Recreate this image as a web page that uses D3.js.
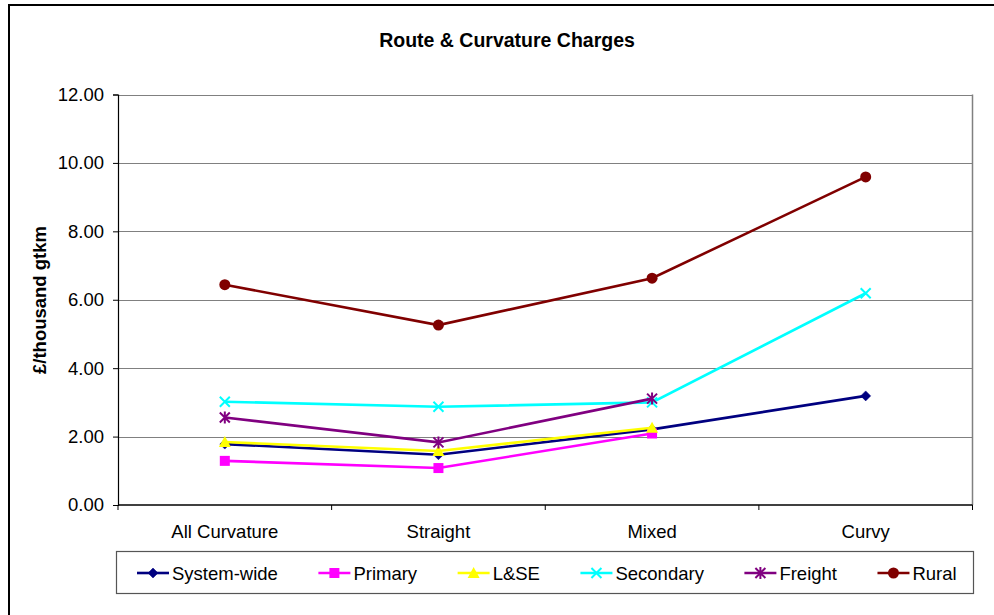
<!DOCTYPE html>
<html>
<head>
<meta charset="utf-8">
<script src="https://cdn.jsdelivr.net/npm/d3@7"></script>
<style>
  html, body { margin: 0; padding: 0; background: #fff; }
  svg { display: block; font-family: "Liberation Sans", Arial, sans-serif; }
</style>
</head>
<body>
<svg id="chart" width="994" height="615"></svg>
<script>
// Route & Curvature charges (£ per thousand gross tonne-km)
const categories = ["All Curvature", "Straight", "Mixed", "Curvy"];
const yTicks = [0, 2, 4, 6, 8, 10, 12];

const seriesNames = ["System-wide", "Primary", "L&SE", "Secondary", "Freight", "Rural"];
const systemWide = [1.78, 1.47, 2.21, 3.19];
const primary    = [1.29, 1.08, 2.09, null];
const lse        = [1.84, 1.58, 2.26, null];
const secondary  = [3.02, 2.87, 3.00, 6.19];
const freight    = [2.56, 1.83, 3.11, null];
const rural      = [6.44, 5.26, 6.63, 9.59];

const seriesValues = [systemWide, primary, lse, secondary, freight, rural];
const seriesColors = ["#000080", "#FF00FF", "#FFFF00", "#00FFFF", "#800080", "#800000"];
const seriesMarkers = ["diamond", "square", "triangle", "cross", "star", "circle"];

const svg = d3.select("#chart");

// Frame around the whole chart
svg.append("rect")
  .attr("x", 9).attr("y", 5).attr("width", 1100).attr("height", 700)
  .attr("fill", "#fff").attr("stroke", "#000").attr("stroke-width", 2);

const plot = { left: 118, right: 972.5, top: 94.5, bottom: 505 };

const x = d3.scaleBand().domain(categories).range([plot.left, plot.right]).padding(0);
const cx = c => x(c) + x.bandwidth() / 2;
const y = d3.scaleLinear().domain([0, 12]).range([plot.bottom, plot.top]);

// Title
svg.append("text")
  .attr("x", 507).attr("y", 47)
  .attr("text-anchor", "middle")
  .attr("font-weight", "bold").attr("font-size", 19.5)
  .text("Route & Curvature Charges");

// Horizontal gridlines
svg.append("g")
  .selectAll("line")
  .data(yTicks.filter(t => t > 0))
  .join("line")
  .attr("x1", plot.left).attr("x2", plot.right)
  .attr("y1", d => Math.round(y(d)) + 0.5).attr("y2", d => Math.round(y(d)) + 0.5)
  .attr("stroke", "#808080").attr("stroke-width", 1.2);

// Right border of the plot area
svg.append("line")
  .attr("x1", plot.right).attr("x2", plot.right)
  .attr("y1", plot.top).attr("y2", plot.bottom)
  .attr("stroke", "#808080").attr("stroke-width", 1.5);

// Y axis
const yAxis = d3.axisLeft(y).tickValues(yTicks).tickFormat(d3.format(".2f")).tickSize(5).tickPadding(9);
const gy = svg.append("g").attr("transform", `translate(${plot.left},0)`).call(yAxis);
gy.select(".domain").attr("stroke", "#000").attr("stroke-width", 1.2);
gy.selectAll(".tick line").attr("stroke", "#000");
gy.selectAll(".tick text").attr("font-size", 18.5).attr("fill", "#000")
  .attr("font-family", "Liberation Sans, Arial, sans-serif");

// X axis: ticks sit on the category boundaries
const gx = svg.append("g").attr("transform", `translate(0,${plot.bottom})`);
gx.append("line").attr("x1", plot.left).attr("x2", plot.right)
  .attr("y1", 0).attr("y2", 0).attr("stroke", "#000").attr("stroke-width", 1.5);
gx.selectAll("line.tick")
  .data(categories.map(c => x(c)).concat([plot.right]))
  .join("line").attr("class", "tick")
  .attr("x1", d => d).attr("x2", d => d).attr("y1", 0).attr("y2", 5)
  .attr("stroke", "#000");
gx.selectAll("text")
  .data(categories)
  .join("text")
  .attr("x", d => cx(d)).attr("y", 33)
  .attr("text-anchor", "middle").attr("font-size", 18.5)
  .text(d => d);

// Y axis title
svg.append("text")
  .attr("transform", "translate(46,300) rotate(-90)")
  .attr("text-anchor", "middle")
  .attr("font-weight", "bold").attr("font-size", 18.5)
  .text("£/thousand gtkm");

// Marker drawing
function drawMarker(g, type, color, px, py) {
  switch (type) {
    case "diamond":
      g.append("path").attr("d", `M${px},${py - 5}L${px + 5},${py}L${px},${py + 5}L${px - 5},${py}Z`)
        .attr("fill", color).attr("stroke", color).attr("stroke-width", 0.5);
      break;
    case "square":
      g.append("rect").attr("x", px - 5).attr("y", py - 5).attr("width", 10).attr("height", 10)
        .attr("fill", color);
      break;
    case "triangle":
      g.append("path").attr("d", `M${px},${py - 6}L${px + 6},${py + 5}L${px - 6},${py + 5}Z`)
        .attr("fill", color);
      break;
    case "cross":
      g.append("path").attr("d", `M${px - 5},${py - 5}L${px + 5},${py + 5}M${px - 5},${py + 5}L${px + 5},${py - 5}`)
        .attr("stroke", color).attr("stroke-width", 2).attr("fill", "none");
      break;
    case "star":
      g.append("path").attr("d", `M${px - 5},${py - 5}L${px + 5},${py + 5}M${px - 5},${py + 5}L${px + 5},${py - 5}M${px},${py - 6}L${px},${py + 6}`)
        .attr("stroke", color).attr("stroke-width", 2).attr("fill", "none");
      break;
    case "circle":
      g.append("circle").attr("cx", px).attr("cy", py).attr("r", 5.5).attr("fill", color);
      break;
  }
}

// Series lines and markers
const line = d3.line()
  .defined(d => d.v !== null)
  .x(d => cx(d.c))
  .y(d => y(d.v));

seriesNames.forEach((name, i) => {
  const pts = categories.map((c, j) => ({ c, v: seriesValues[i][j] }));
  const g = svg.append("g").attr("class", "series");
  g.append("path").datum(pts)
    .attr("d", line)
    .attr("fill", "none")
    .attr("stroke", seriesColors[i])
    .attr("stroke-width", 2.6);
  pts.filter(d => d.v !== null).forEach(d => drawMarker(g, seriesMarkers[i], seriesColors[i], cx(d.c), y(d.v)));
});

// Legend
const legend = svg.append("g");
legend.append("rect")
  .attr("x", 116.5).attr("y", 551.5).attr("width", 857).attr("height", 42)
  .attr("fill", "#fff").attr("stroke", "#555").attr("stroke-width", 1.2);

let lx = 137;
const ly = 573;
seriesNames.forEach((name, i) => {
  const g = legend.append("g");
  g.append("line").attr("x1", lx).attr("x2", lx + 32).attr("y1", ly).attr("y2", ly)
    .attr("stroke", seriesColors[i]).attr("stroke-width", 2.6);
  drawMarker(g, seriesMarkers[i], seriesColors[i], lx + 16, ly);
  const t = g.append("text").attr("x", lx + 35).attr("y", ly + 7)
    .attr("font-size", 18.5).text(name);
  lx += 35 + t.node().getComputedTextLength() + 40.5;
});
</script>
</body>
</html>
